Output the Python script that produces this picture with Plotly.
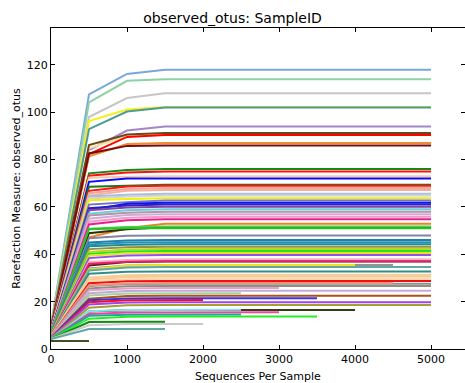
import plotly.graph_objects as go

# Per-sample rarefaction values
depth_steps = [0, 500, 1000, 1500]
v_start = [10.0, 9.8, 9.5, 9.3, 9.2, 9.0, 8.8, 9.0, 8.7, 8.6, 8.5,
           8.4, 8.3, 8.2, 8.1, 8.0, 8.6, 7.8, 7.7, 7.6, 7.5, 7.4, 7.3, 7.2, 7.1, 7.0,
           6.9, 6.8, 6.8, 6.7, 6.6, 6.6, 6.4, 6.5, 6.5, 6.3, 6.2, 6.1, 6.0, 6.0, 5.9,
           5.8, 5.8, 5.7, 5.6, 5.6, 5.5, 5.5, 5.4, 5.4, 5.3, 5.3, 5.2, 5.2, 5.1, 5.1,
           5.0, 5.0, 5.0, 4.9, 4.9, 4.8, 4.8, 4.7, 4.7, 4.6, 4.6, 4.5, 4.5, 4.4, 4.4,
           4.3, 4.3, 4.2, 3.4]
v_500 = [107.6, 104.2, 98.0, 96.3, 92.9, 84.0, 84.8, 86.2, 82.3, 81.4, 82.6,
         74.2, 73.2, 72.3, 70.6, 68.5, 66.8, 65.8, 64.8, 64.4, 63.6, 62.8, 61.0, 58.8, 59.5, 58.6,
         57.2, 56.4, 55.0, 53.8, 52.6, 47.2, 48.9, 50.8, 50.6, 46.8, 45.0, 44.2, 43.4, 42.2, 41.0,
         40.2, 39.4, 38.4, 36.8, 35.3, 36.0, 34.0, 33.6, 33.2, 31.8, 30.2, 29.4, 28.6, 27.8, 26.6,
         26.8, 25.6, 24.8, 23.6, 22.6, 21.2, 20.6, 19.8, 18.8, 17.4, 15.8, 15.9, 14.8, 14.0, 12.8,
         11.4, 10.0, 8.4, 3.4]
v_1000 = [116.2, 113.3, 106.0, 101.2, 100.3, 92.3, 90.0, 90.6, 89.6, 86.6, 85.8,
          75.6, 74.6, 72.8, 72.0, 69.0, 68.6, 67.6, 66.8, 65.2, 64.4, 63.4, 62.0, 61.4, 60.6, 59.8,
          58.6, 57.6, 56.6, 55.4, 54.4, 51.0, 50.6, 51.5, 51.0, 47.8, 45.8, 45.0, 44.0, 43.0, 42.0,
          41.2, 40.4, 39.5, 37.6, 36.8, 36.9, 35.3, 35.3, 34.4, 32.6, 31.2, 30.4, 29.5, 28.6, 27.5,
          27.7, 26.5, 25.6, 24.5, 23.4, 22.4, 21.3, 20.6, 19.6, 18.5, 16.4, 16.5, 15.4, 14.5, 13.6,
          11.5, 10.6, 8.5, 3.4]
v_plateau = [118.0, 114.0, 108.0, 102.2, 102.0, 94.0, 90.8, 91.2, 90.4, 87.0, 86.0,
             76.0, 75.0, 73.0, 72.0, 69.4, 69.0, 68.0, 67.2, 65.6, 64.8, 63.7, 62.7, 61.8, 61.0, 60.1,
             59.0, 58.0, 56.9, 55.9, 54.8, 52.9, 51.4, 51.8, 51.0, 47.9, 46.0, 45.1, 44.2, 43.2, 42.2,
             41.4, 40.6, 39.7, 37.9, 37.0, 37.1, 35.5, 35.5, 34.6, 32.7, 31.4, 30.6, 29.7, 28.7, 27.6,
             27.9, 26.6, 25.8, 24.6, 23.5, 22.5, 21.4, 20.7, 19.7, 18.6, 16.5, 16.6, 15.5, 14.6, 13.7,
             11.5, 10.6, 8.5, 3.4]
max_depth = [5000, 5000, 5000, 5000, 5000, 5000, 5000, 5000, 5000, 5000, 5000,
             5000, 5000, 5000, 5000, 5000, 5000, 5000, 5000, 5000, 5000, 5000, 5000, 5000, 5000, 5000,
             5000, 5000, 5000, 5000, 5000, 5000, 5000, 5000, 5000, 5000, 5000, 5000, 5000, 5000, 5000,
             5000, 5000, 5000, 5000, 5000, 5000, 4500, 4000, 5000, 5000, 5000, 5000, 5000, 5000, 5000,
             4500, 5000, 3000, 5000, 2500, 5000, 3500, 2000, 5000, 5000, 4000, 2500, 3000, 2500, 3500,
             1500, 2000, 1500, 500]
line_colors = ["#7aa6da", "#8ed1a2", "#c6c6c6", "#f4f018", "#4b9b95", "#a385cc", "#f6e39a", "#6a4818",
               "#ff0000", "#ee8a35", "#7a0a0a",
               "#128a12", "#ff1010", "#f6c8a6", "#0a0aff", "#1a7a1a", "#ff1414", "#f4a696", "#f2ae9e",
               "#a2bee0", "#d2d2d2", "#f2f000", "#7070d6", "#1010f2", "#2424c4", "#8446a6",
               "#64d0d8", "#b294aa", "#d2aad8", "#f29ac8", "#e8208c", "#f08020", "#2e2e0e", "#44d844",
               "#2ac02a", "#8282aa", "#2282a2", "#1c92c8", "#218a8a", "#92923e", "#b6d820",
               "#22e222", "#e8e020", "#9252e8", "#f8b2c8", "#502010", "#e82070", "#949494", "#ece41e",
               "#62a8a2", "#2e9088", "#f8cc96", "#f8c890", "#fbd8a8", "#f01010", "#909090",
               "#f29080", "#909080", "#e2a2c8", "#c2aad8", "#a2d2a2", "#b05212", "#3232f0", "#f41414",
               "#a242f0", "#a2a032", "#304012", "#84e2e8", "#f242a2", "#22a2a2", "#22f022",
               "#128a12", "#cacaca", "#62a8a8", "#405020"]

fig = go.Figure()
for i in range(len(v_plateau)):
    ys_all = [v_start[i], v_500[i], v_1000[i], v_plateau[i]]
    xs = [d for d in depth_steps if d <= max_depth[i]]
    ys = ys_all[:len(xs)]
    if max_depth[i] > depth_steps[-1]:
        xs = xs + [max_depth[i]]
        ys = ys + [v_plateau[i]]
    fig.add_trace(go.Scatter(x=xs, y=ys, mode="lines",
                             line=dict(color=line_colors[i], width=2),
                             hoverinfo="skip", showlegend=False))

font = "DejaVu Sans, Liberation Sans, sans-serif"
axis_common = dict(showline=True, linecolor="black", linewidth=1, mirror="ticks",
                   ticks="inside", ticklen=4, tickcolor="black", tickwidth=1,
                   showgrid=False, zeroline=False,
                   tickfont=dict(family=font, size=11, color="black"))

fig.update_layout(
    width=465, height=383,
    margin=dict(l=51, r=0, t=28, b=34, autoexpand=False),
    paper_bgcolor="white", plot_bgcolor="white",
    title=dict(text="observed_otus: SampleID", x=0.5, xanchor="center",
               y=1 - 18 / 383, yanchor="middle",
               font=dict(family=font, size=14, color="black")),
    xaxis=dict(range=[0, 5447], tickvals=[0, 1000, 2000, 3000, 4000, 5000],
               title=dict(text="Sequences Per Sample", standoff=7,
                          font=dict(family=font, size=11, color="black")),
               **axis_common),
    yaxis=dict(range=[0, 135.6], tickvals=[0, 20, 40, 60, 80, 100, 120],
               title=dict(text="Rarefaction Measure: observed_otus", standoff=3,
                          font=dict(family=font, size=11, color="black")),
               **axis_common),
)
fig.write_html("out.html")
